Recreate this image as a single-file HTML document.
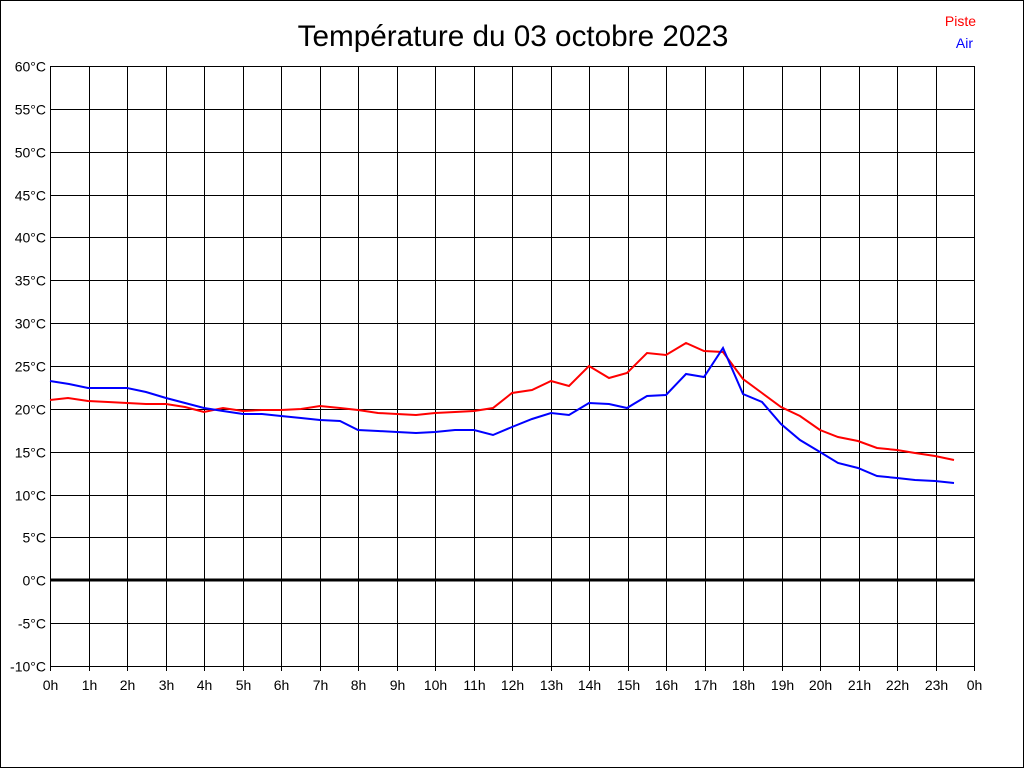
<!DOCTYPE html>
<html><head><meta charset="utf-8"><style>body{margin:0;background:#fff}</style></head><body>
<svg width="1024" height="768" xmlns="http://www.w3.org/2000/svg" font-family="Liberation Sans, sans-serif">
<rect x="0.5" y="0.5" width="1023" height="767" fill="#fff" stroke="#000"/>
<text x="513" y="46" font-size="29.7" text-anchor="middle">Température du 03 octobre 2023</text>
<text x="976" y="26" font-size="14" fill="#f00" text-anchor="end">Piste</text>
<text x="973" y="48" font-size="14" fill="#00f" text-anchor="end">Air</text>
<g id="grid" stroke="#000" stroke-width="1"></g>
<g id="lab" font-size="14"></g>
<line x1="50" y1="580" x2="974" y2="580" stroke="#000" stroke-width="3"/>
<polyline fill="none" stroke="#f00" stroke-width="2" points="50,400 68,398 88,401 108,402 127,403 146,404 166,404 185,407 204,412 223,408 243,411 262,410 281,410 301,409 320,406 340,408 358,410 378,413 397,414 416,415 435,413 455,412 474,411 493,408 512,393 532,390 551,381 569,386 589,366 609,378 627,373 647,353 666,355 686,343 704,351 723,352 743,379 762,393 781,407 800,416 820,430 838,437 858,441 877,448 897,450 915,453 935,456 954,460"/>
<polyline fill="none" stroke="#00f" stroke-width="2" points="50,381 69,384 88,388 108,388 127,388 146,392 166,398 185,403 204,408 223,411 243,414 262,414 281,416 301,418 320,420 340,421 358,430 378,431 397,432 416,433 435,432 455,430 474,430 493,435 512,427 532,419 551,413 569,415 589,403 609,404 627,408 647,396 666,395 686,374 704,377 723,348 743,394 762,402 781,424 800,440 820,452 838,463 858,468 877,476 897,478 915,480 935,481 954,483"/>
</svg>
<script>
var g=document.getElementById('grid'),l=document.getElementById('lab'),ns='http://www.w3.org/2000/svg';
function ln(a,b,c,d){var e=document.createElementNS(ns,'line');e.setAttribute('x1',a);e.setAttribute('y1',b);e.setAttribute('x2',c);e.setAttribute('y2',d);g.appendChild(e);}
function tx(x,y,s,a){var e=document.createElementNS(ns,'text');e.setAttribute('x',x);e.setAttribute('y',y);e.setAttribute('text-anchor',a);e.textContent=s;l.appendChild(e);}
for(var i=0;i<=14;i++){var y=Math.round(66+i*600/14)+0.5;ln(50,y,974,y);tx(46,y+5,(60-5*i)+'°C','end');}
for(var h=0;h<=24;h++){var x=Math.round(50+h*38.5)+0.5;ln(x,66,x,671);tx(x,690,(h%24)+'h','middle');}
</script>
</body></html>
